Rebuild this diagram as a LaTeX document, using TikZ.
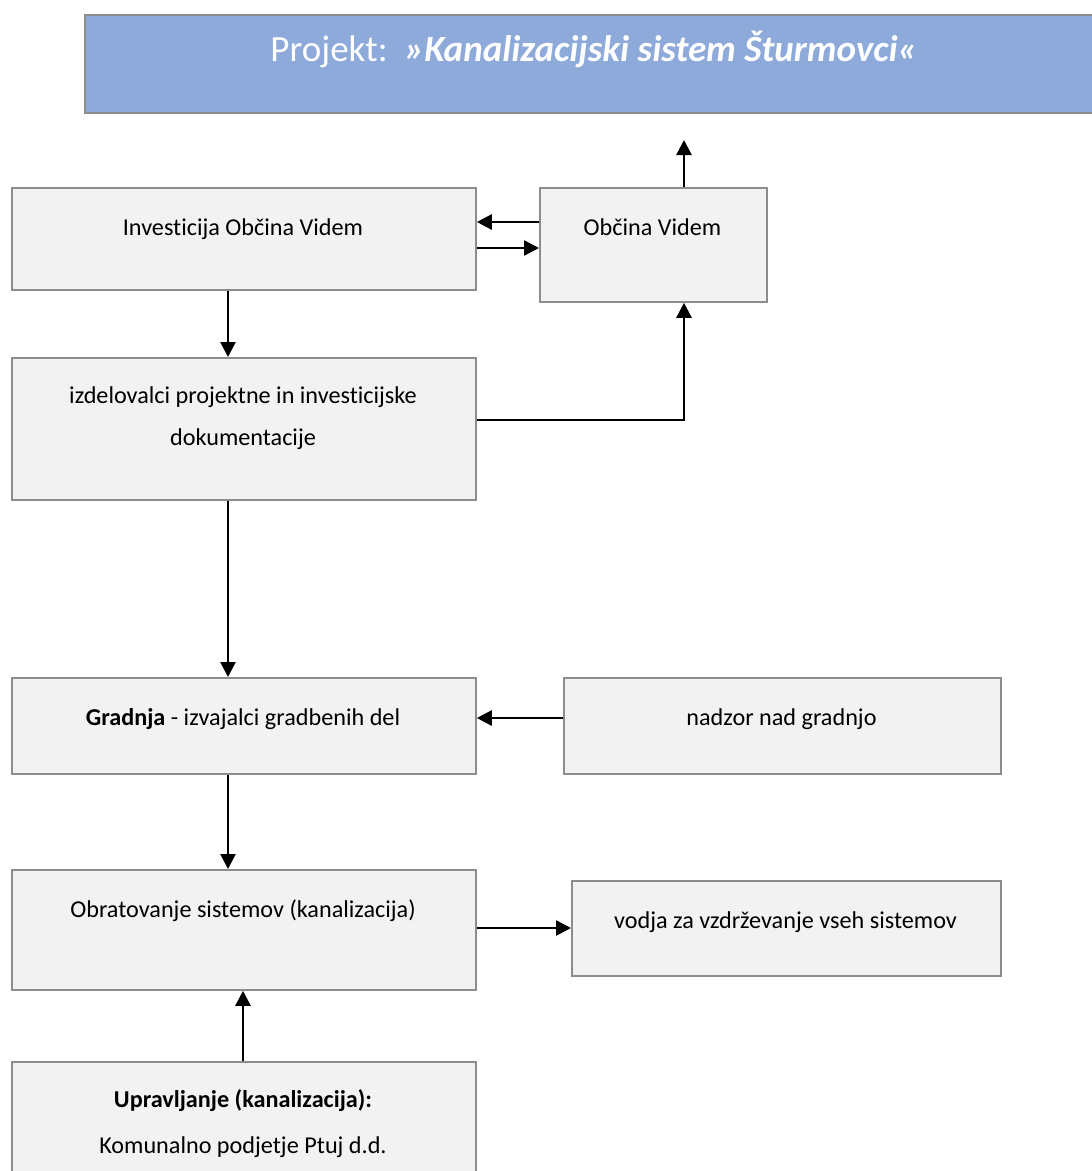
\documentclass[tikz,border=0pt]{standalone}
\usepackage{fontspec}
\setmainfont{Carlito}[Ligatures=NoCommon]
\usetikzlibrary{arrows.meta}
\definecolor{boxfill}{HTML}{F2F2F2}
\definecolor{boxline}{HTML}{8C8C8C}
\definecolor{titlefill}{HTML}{8EAADB}
\begin{document}
\begin{tikzpicture}[x=1pt,y=-1pt,
  box/.style={draw=boxline, line width=1.8pt, fill=boxfill, rectangle, anchor=north west, inner sep=0pt},
  txt/.style={font=\fontsize{24.2}{29}\selectfont, inner sep=0pt, anchor=base},
  arr/.style={line width=2.6pt, -{Triangle[length=15pt,width=15pt]}}]
\useasboundingbox (0,0) rectangle (1092,1171);
\clip (0,0) rectangle (1092,1171);
% title
\node[box, draw=boxline, fill=titlefill, minimum width=1010pt, minimum height=98pt] (title) at (84,14) {};
\node[font=\fontsize{37}{42}\selectfont, text=white, inner sep=0pt, anchor=base] (titletext) at (594,61) {Projekt:\ \ \textbf{\textit{»Kanalizacijski sistem Šturmovci«}}};
% boxes
\node[box, minimum width=464pt, minimum height=102pt] (inv) at (11,187) {};
\node[txt] at (243,235) {Investicija Občina Videm};
\node[box, minimum width=227pt, minimum height=114pt] (obc) at (539,187) {};
\node[txt] at (652.5,235) {Občina Videm};
\node[box, minimum width=464pt, minimum height=142pt] (izd) at (11,357) {};
\node[txt] at (243,403) {izdelovalci projektne in investicijske};
\node[txt] at (243,445) {dokumentacije};
\node[box, minimum width=464pt, minimum height=96pt] (gra) at (11,677) {};
\node[txt] at (243,725) {\textbf{Gradnja} - izvajalci gradbenih del};
\node[box, minimum width=437pt, minimum height=96pt] (nad) at (563,677) {};
\node[txt] at (781.5,725) {nadzor nad gradnjo};
\node[box, minimum width=464pt, minimum height=120pt] (obr) at (11,869) {};
\node[txt] at (243,917) {Obratovanje sistemov (kanalizacija)};
\node[box, minimum width=429pt, minimum height=95pt] (vod) at (571,880) {};
\node[txt] at (785.5,928) {vodja za vzdrževanje vseh sistemov};
\node[box, minimum width=464pt, minimum height=140pt] (upr) at (11,1061) {};
\node[txt] at (243,1107) {\textbf{Upravljanje (kanalizacija):}};
\node[txt] at (243,1153) {Komunalno podjetje Ptuj d.d.};
% connectors
\coordinate (tup) at (684,140);
\draw[arr] (obc.north -| tup) -- (tup);
\draw[arr] (obc.west |- 0,222) -- (inv.east |- 0,222);
\draw[arr] (inv.east |- 0,248) -- (obc.west |- 0,248);
\draw[arr] (inv.south -| 228,0) -- (izd.north -| 228,0);
\draw[arr] (izd.east |- 0,420) -| (obc.south -| 684,0);
\draw[arr] (izd.south -| 228,0) -- (gra.north -| 228,0);
\draw[arr] (nad.west |- 0,718) -- (gra.east |- 0,718);
\draw[arr] (gra.south -| 228,0) -- (obr.north -| 228,0);
\draw[arr] (obr.east |- 0,928) -- (vod.west |- 0,928);
\draw[arr] (upr.north -| 243,0) -- (obr.south -| 243,0);
\end{tikzpicture}
\end{document}
